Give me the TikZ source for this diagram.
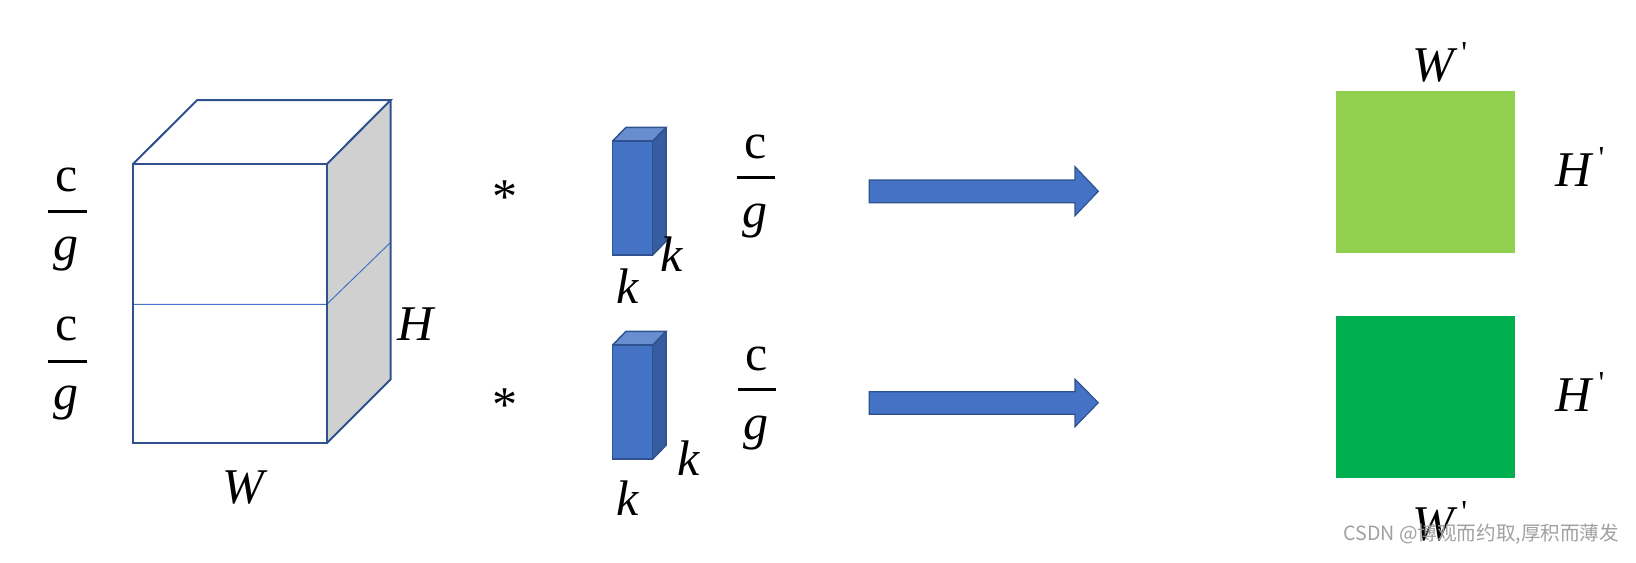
\documentclass[tikz,border=0pt]{standalone}
\usepackage{fontspec}
\setmainfont{Liberation Serif}
\newfontfamily\cjkfont{Noto Sans CJK SC}
\definecolor{cubeedge}{HTML}{2F528F}
\definecolor{midline}{HTML}{4472C4}
\definecolor{sideface}{HTML}{D0D0D0}
\definecolor{kfront}{HTML}{4472C4}
\definecolor{ktop}{HTML}{698ED0}
\definecolor{kside}{HTML}{355D9F}
\definecolor{lightgreen}{HTML}{92D050}
\definecolor{darkgreen}{HTML}{00B050}
\definecolor{wmgray}{HTML}{A0A0A0}
\newcommand\myprime{\kern0.14em\raisebox{0.36em}{\upshape\fontsize{16}{16}\selectfont\textquotesingle}}
\begin{document}
\begin{tikzpicture}[x=0.5pt,y=-0.5pt,
  lbl/.style={inner sep=0pt, anchor=base, font=\fontsize{25}{30}\selectfont\itshape},
  uplbl/.style={inner sep=0pt, anchor=base, font=\fontsize{25}{30}\selectfont},
  fracbar/.style={line width=1.4pt, black},
  cubeline/.style={draw=cubeedge, line width=1pt, line join=miter},
  kline/.style={draw=cubeedge, line width=0.75pt, line join=miter},
  blockarrow/.style={fill=kfront, draw=cubeedge, line width=0.6pt, line join=miter},
  astmark/.style={inner sep=0pt, font=\fontsize{25}{30}\selectfont}
]
\useasboundingbox (0,0) rectangle (1636,562);

% ---------- cube ----------
\coordinate (fa) at (132.7,164.3);
\coordinate (fb) at (326.7,164.3);
\coordinate (fc) at (326.7,443.3);
\coordinate (fd) at (132.7,443.3);
\coordinate (ba) at (197.3,100);
\coordinate (bb) at (390.7,100);
\coordinate (bc) at (390.7,379.3);
\fill[white] (fa) -- (ba) -- (bb) -- (fb) -- cycle;
\fill[sideface] (fb) -- (bb) -- (bc) -- (fc) -- cycle;
\fill[white] (fa) rectangle (fc);
\coordinate (ml) at (132.7,304.3);
\coordinate (mr) at (326.7,304.3);
\coordinate (mb) at (390.7,242.3);
\draw[midline, line width=0.5pt] (ml) -- (mr) -- (mb);
\draw[cubeline] (fa) rectangle (fc);
\draw[cubeline] (fa) -- (ba) -- (bb) -- (fb);
\draw[cubeline] (bb) -- (bc) -- (fc);

% left fractions
\node[uplbl] (lc1) at (67,191.7) {c};
\node[lbl] (lg1) at (66,260) {g};
\draw[fracbar] (48,211.7) -- (86.7,211.7);
\node[uplbl] (lc2) at (67,340) {c};
\node[lbl] (lg2) at (66,409) {g};
\draw[fracbar] (48,361.3) -- (86.7,361.3);

\node[lbl] (H) at (416,340) {H};
\node[lbl] (W) at (243,503) {W};

% ---------- asterisks ----------
\node[astmark] (ast1) at (505,197) {*};
\node[astmark] (ast2) at (505,405) {*};

% ---------- kernels ----------
\foreach \dy in {0, 204} {
  \begin{scope}[yshift=-\dy*0.5pt]
    \fill[ktop] (612.7,141) -- (626,127.3) -- (666,127.3) -- (652.7,141) -- cycle;
    \fill[kside] (652.7,141) -- (666,127.3) -- (666,241.3) -- (652.7,255) -- cycle;
    \fill[kfront] (612.7,141) rectangle (652.7,255);
    \draw[kline] (612.7,141) -- (626,127.3) -- (666,127.3) -- (652.7,141);
    \draw[kline] (666,127.3) -- (666,241.3) -- (652.7,255);
    \draw[kline] (612.7,141) rectangle (652.7,255);
  \end{scope}
}
\node[lbl] (k1r) at (671.7,271.7) {k};
\node[lbl] (k1b) at (628,303.3) {k};
\node[lbl] (k2r) at (689,475) {k};
\node[lbl] (k2b) at (628,515) {k};

% right fractions
\node[uplbl] (rc1) at (756,158.3) {c};
\node[lbl] (rg1) at (755,227) {g};
\draw[fracbar] (736.7,177.3) -- (775,177.3);
\node[uplbl] (rc2) at (757,370) {c};
\node[lbl] (rg2) at (756,439) {g};
\draw[fracbar] (737.7,389.3) -- (776,389.3);

% ---------- block arrows ----------
\path[blockarrow] (869.3,180) -- (1075,180) -- (1075,166.7) -- (1098.3,191.3) -- (1075,215.7) -- (1075,202.7) -- (869.3,202.7) -- cycle;
\path[blockarrow] (869.3,391.7) -- (1075,391.7) -- (1075,379.3) -- (1098.3,402.7) -- (1075,426.7) -- (1075,414.3) -- (869.3,414.3) -- cycle;

% ---------- outputs ----------
\fill[lightgreen] (1336,91) rectangle (1515,252.7);
\fill[darkgreen] (1336,316) rectangle (1515,477.7);
\node[lbl] (Wt) at (1440,81.7) {W\myprime};
\node[lbl] (Ht1) at (1580,186.7) {H\myprime};
\node[lbl] (Ht2) at (1580,411.7) {H\myprime};
\node[lbl] (Wb) at (1440,540) {W\myprime};

% watermark
\node[inner sep=0pt, anchor=base west, text=wmgray, font=\cjkfont\fontsize{9.8}{11}\selectfont] (wm) at (1343,540) {CSDN @博观而约取,厚积而薄发};
\end{tikzpicture}
\end{document}
